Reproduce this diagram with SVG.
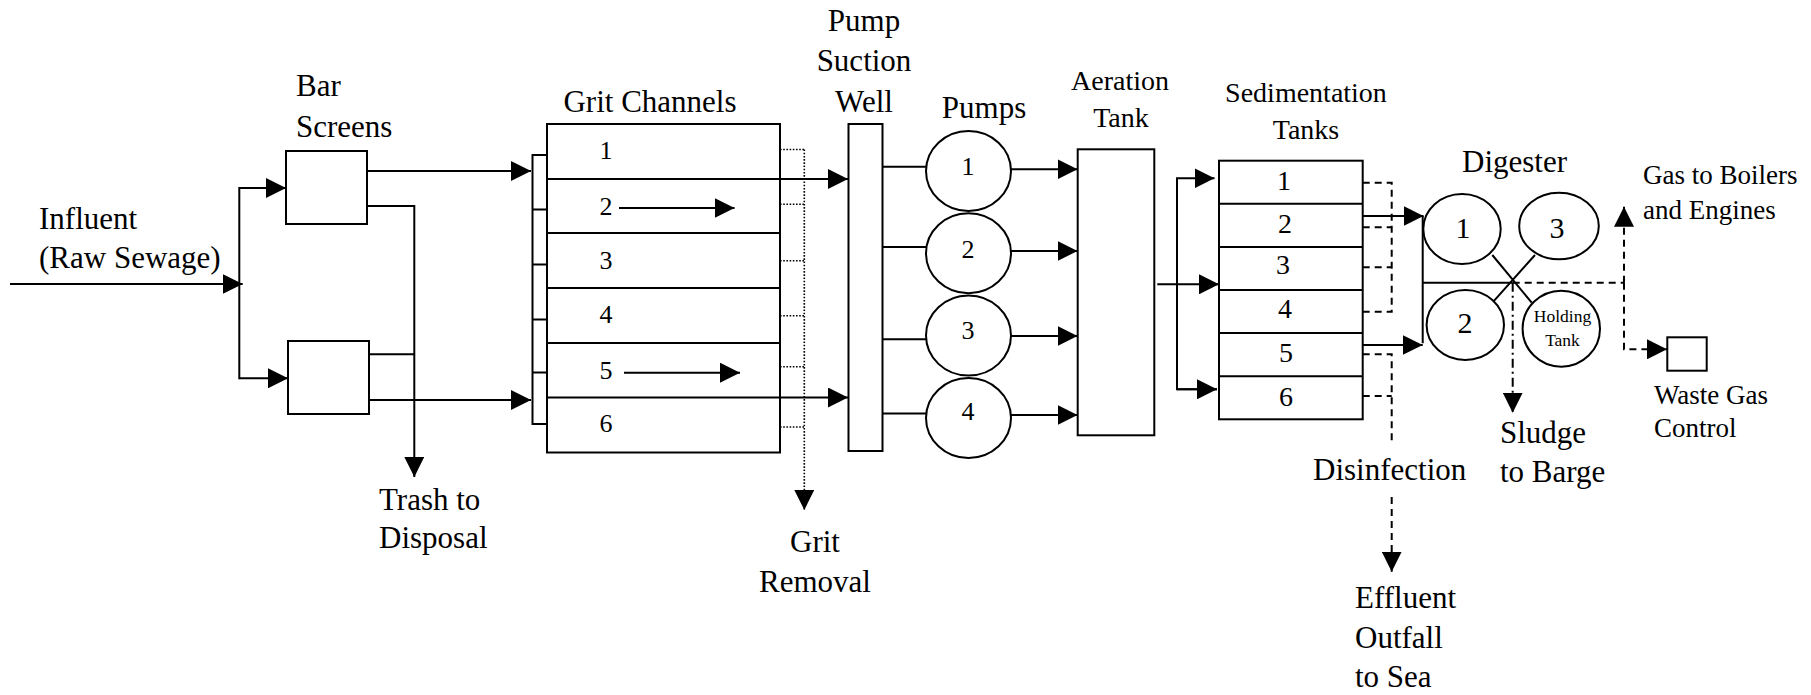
<svg xmlns="http://www.w3.org/2000/svg" width="1811" height="695" viewBox="0 0 1811 695" font-family="Liberation Serif, Times New Roman, DejaVu Serif, serif">
<style>
text{font-family:'Liberation Serif','Times New Roman','DejaVu Serif',serif;fill:#000}
.t{font-size:31px}
.m{font-size:28px}
.s{font-size:27px}
.n{font-size:26px}
.d{font-size:30px}
.h{font-size:17.5px}
.c{text-anchor:middle}
.box{fill:#fff;stroke:#000;stroke-width:2}
.ln{fill:none;stroke:#000;stroke-width:2}
.dash{fill:none;stroke:#000;stroke-width:2;stroke-dasharray:7 5}
.dot{fill:none;stroke:#000;stroke-width:1.6;stroke-dasharray:1.6 1.6}
.dd{fill:none;stroke:#000;stroke-width:2;stroke-dasharray:9 4 2 4}
</style>
<defs>
<marker id="ah" viewBox="0 0 20 20" refX="20" refY="10" markerWidth="20" markerHeight="20" markerUnits="userSpaceOnUse" orient="auto">
<path d="M0,0 L20,10 L0,20 z" fill="#000"/>
</marker>
</defs>
<rect width="1811" height="695" fill="#fff"/>

<g id="influent">
<text class="t" x="39" y="229">Influent</text>
<text class="t" x="39" y="268">(Raw Sewage)</text>
</g>

<g id="bar-screens">
<text class="t" x="296" y="96">Bar</text>
<text class="t" x="296" y="137">Screens</text>
<rect class="box" x="286" y="151" width="81" height="73"/>
<rect class="box" x="288" y="341" width="81" height="73"/>
</g>

<g id="trash">
<text class="t" x="379" y="510">Trash to</text>
<text class="t" x="379" y="548">Disposal</text>
</g>

<g id="grit-channels">
<text class="t c" x="650" y="112">Grit Channels</text>
<rect class="box" x="532.5" y="155" width="14.5" height="269"/>
<path class="ln" d="M532.5,209.5H547M532.5,264.5H547M532.5,319.5H547M532.5,372.5H547"/>
<rect class="box" x="547" y="124" width="233" height="328.5"/>
<path class="ln" d="M547,233H780M547,288H780M547,343H780"/>
<text class="n c" x="606" y="159">1</text>
<text class="n c" x="606" y="215">2</text>
<text class="n c" x="606" y="269">3</text>
<text class="n c" x="606" y="323">4</text>
<text class="n c" x="606" y="379">5</text>
<text class="n c" x="606" y="432">6</text>
</g>

<g id="grit-removal">
<text class="t c" x="815" y="552">Grit</text>
<text class="t c" x="815" y="592">Removal</text>
</g>

<g id="pump-suction-well">
<text class="t c" x="864" y="31">Pump</text>
<text class="t c" x="864" y="71">Suction</text>
<text class="t c" x="864" y="112">Well</text>
<rect class="box" x="848.5" y="124" width="34" height="327"/>
</g>

<g id="pumps">
<text class="t c" x="984" y="118">Pumps</text>
<ellipse class="box" cx="968.5" cy="171" rx="42.5" ry="40"/>
<ellipse class="box" cx="968.5" cy="253.3" rx="42.5" ry="40"/>
<ellipse class="box" cx="968.5" cy="335.6" rx="42.5" ry="40"/>
<ellipse class="box" cx="968.5" cy="418" rx="42.5" ry="40"/>
<text class="n c" x="968" y="175">1</text>
<text class="n c" x="968" y="258">2</text>
<text class="n c" x="968" y="339">3</text>
<text class="n c" x="968" y="420">4</text>
</g>

<g id="aeration-tank">
<text class="m c" x="1120" y="90">Aeration</text>
<text class="m c" x="1121" y="127">Tank</text>
<rect class="box" x="1077.7" y="149.3" width="76.6" height="286"/>
</g>

<g id="sedimentation-tanks">
<text class="m c" x="1306" y="102">Sedimentation</text>
<text class="m c" x="1306" y="139">Tanks</text>
<rect class="box" x="1219" y="160.7" width="143.7" height="258.6"/>
<path class="ln" d="M1219,203.8H1362.7M1219,246.9H1362.7M1219,290H1362.7M1219,333.1H1362.7M1219,376.2H1362.7"/>
<text class="m c" x="1284" y="190">1</text>
<text class="m c" x="1285" y="233">2</text>
<text class="m c" x="1283" y="274">3</text>
<text class="m c" x="1285" y="318">4</text>
<text class="m c" x="1286" y="362">5</text>
<text class="m c" x="1286" y="406">6</text>
</g>

<g id="disinfection">
<text class="t" x="1313" y="480">Disinfection</text>
</g>

<g id="effluent">
<text class="t" x="1355" y="608">Effluent</text>
<text class="t" x="1355" y="648">Outfall</text>
<text class="t" x="1355" y="687">to Sea</text>
</g>

<g id="digester">
<text class="t" x="1462" y="172">Digester</text>
<ellipse class="box" cx="1462" cy="229" rx="38.7" ry="35"/>
<ellipse class="box" cx="1559" cy="226" rx="39.8" ry="33.3"/>
<ellipse class="box" cx="1465.3" cy="325" rx="38.7" ry="35"/>
<text class="d c" x="1463" y="238">1</text>
<text class="d c" x="1557" y="238">3</text>
<text class="d c" x="1465" y="333">2</text>
</g>

<g id="holding-tank">
<ellipse class="box" cx="1561.3" cy="328.7" rx="38.7" ry="38"/>
<text class="h c" x="1562.5" y="321.5">Holding</text>
<text class="h c" x="1562.5" y="345.5">Tank</text>
</g>

<g id="sludge">
<text class="t" x="1500" y="443">Sludge</text>
<text class="t" x="1500" y="482">to Barge</text>
</g>

<g id="gas-boilers">
<text class="s" x="1643" y="184">Gas to Boilers</text>
<text class="s" x="1643" y="219">and Engines</text>
</g>

<g id="waste-gas-control">
<rect class="box" x="1667.3" y="337.3" width="39.4" height="33.4"/>
<text class="s" x="1654" y="404">Waste Gas</text>
<text class="s" x="1654" y="437">Control</text>
</g>

<g id="connectors">
<path class="ln" d="M10,284H242.7" marker-end="url(#ah)"/>
<path class="ln" d="M239.3,379.3V188H286" marker-end="url(#ah)"/>
<path class="ln" d="M239.3,378.3H288" marker-end="url(#ah)"/>
<path class="ln" d="M367,171H531" marker-end="url(#ah)"/>
<path class="ln" d="M369,400H531" marker-end="url(#ah)"/>
<path class="ln" d="M367,206H414.3V477" marker-end="url(#ah)"/>
<path class="ln" d="M369,354.3H414.3"/>
<path class="ln" d="M547,179H848" marker-end="url(#ah)"/>
<path class="ln" d="M547,397.5H848" marker-end="url(#ah)"/>
<path class="ln" d="M619,208H734.5" marker-end="url(#ah)"/>
<path class="ln" d="M624,372.7H740" marker-end="url(#ah)"/>
<path class="dot" d="M780,149.5H804.3M780,204.3H804.3M780,260.7H804.3M780,315.7H804.3M780,366.7H804.3M780,427H804.3"/>
<path class="dot" d="M804.3,149.5V510" marker-end="url(#ah)"/>
<path class="ln" d="M882.5,166.7H926M882.5,247H926M882.5,339.3H926M882.5,413.5H926"/>
<path class="ln" d="M1011,169.3H1077.5" marker-end="url(#ah)"/>
<path class="ln" d="M1011,251H1077.5" marker-end="url(#ah)"/>
<path class="ln" d="M1011,336H1077.5" marker-end="url(#ah)"/>
<path class="ln" d="M1011,415H1077.5" marker-end="url(#ah)"/>
<path class="ln" d="M1157.3,284.3H1219" marker-end="url(#ah)"/>
<path class="ln" d="M1217,389.3H1177V178.3H1214.5" marker-end="url(#ah)"/>
<path class="ln" d="M1177,389.3H1217" marker-end="url(#ah)"/>
<path class="dash" d="M1362.7,182.7H1391.7V311.7H1362.7M1362.7,227.3H1391.7M1362.7,267.3H1391.7"/>
<path class="dash" d="M1362.7,354.3H1391.7V445M1362.7,396H1391.7"/>
<path class="dash" d="M1391.7,497V571.7" marker-end="url(#ah)"/>
<path class="ln" d="M1362.7,216H1423.5" marker-end="url(#ah)"/>
<path class="ln" d="M1362.7,345H1422.7" marker-end="url(#ah)"/>
<path class="ln" d="M1422.7,216V343.3M1422.7,282.7H1512.7"/>
<path class="ln" d="M1492.3,255L1531.7,302.7M1535,255L1493.3,301.7"/>
<path class="dash" d="M1512.7,282.7H1624"/>
<path class="dash" d="M1624,282.7V206.7" marker-end="url(#ah)"/>
<path class="dash" d="M1624,282.7V349.3H1667" marker-end="url(#ah)"/>
<path class="dd" d="M1512.7,282.7V412.7" marker-end="url(#ah)"/>
</g>
</svg>
